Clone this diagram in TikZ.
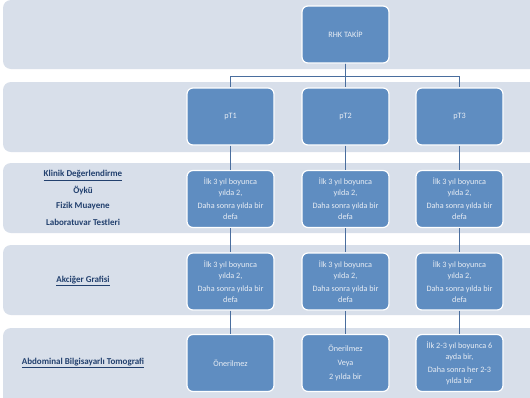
\documentclass[tikz,border=0pt]{standalone}
\usepackage{fontspec}
\setmainfont{Carlito}
\definecolor{bandc}{HTML}{D8DFEA}
\definecolor{boxc}{HTML}{5F8DC1}
\definecolor{boxtxt}{HTML}{E8EDF4}
\definecolor{connc}{HTML}{4A6E9E}
\definecolor{lblc}{HTML}{22406E}
\begin{document}
\begin{tikzpicture}[x=1pt,y=-1pt,
  band/.style={fill=bandc,draw=none,rounded corners=8pt},
  box/.style={fill=boxc,draw=white,line width=1.2pt,rounded corners=6pt,
    minimum width=87pt,minimum height=57pt,text=boxtxt,align=center,
    font=\fontsize{8.2}{11.2}\selectfont,inner sep=1pt},
  conn/.style={draw=connc,line width=1pt},
  lbl/.style={text=lblc,font=\fontsize{9}{10}\selectfont\bfseries,inner sep=0pt}]
\useasboundingbox (0,0) rectangle (530,397);
\clip (0,0) rectangle (530,397);
\fill[white] (0,0) rectangle (530,397);
% bands
\path[band] (3,0) rectangle (548,69);
\path[band] (3,82) rectangle (548,152);
\path[band] (3,163) rectangle (548,233);
\path[band] (3,245) rectangle (548,315);
\path[band] (3,328) rectangle (548,410);
% nodes
\node[box] (rhk) at (345.5,34.5) {RHK TAKİP};
\node[box] (pt1) at (230.5,116.5) {pT1};
\node[box] (pt2) at (345.5,116.5) {pT2};
\node[box] (pt3) at (459.5,116.5) {pT3};
\foreach \i/\x in {1/230.5,2/345.5,3/459.5}{
  \node[box] (a\i) at (\x,199) {İlk 3 yıl boyunca\\yılda 2,\\[1.5pt]Daha sonra yılda bir\\defa};
  \node[box] (b\i) at (\x,281.5) {İlk 3 yıl boyunca\\yılda 2,\\[1.5pt]Daha sonra yılda bir\\defa};
}
\node[box] (c1) at (230.5,363) {Önerilmez};
\node[box] (c2) at (345.5,363) {Önerilmez\\[2.5pt]Veya\\[2.5pt]2 yılda bir};
\node[box] (c3) at (459.5,363) {İlk 2-3 yıl boyunca 6\\ayda bir,\\[1.5pt]Daha sonra her 2-3\\yılda bir};
% connectors
\draw[conn] (rhk.south) -- (pt2.north);
\draw[conn] (rhk.south) -- ++(0,13) -| (pt1.north);
\draw[conn] (rhk.south) -- ++(0,13) -| (pt3.north);
\foreach \i in {1,2,3}{
  \draw[conn] (pt\i.south) -- (a\i.north);
  \draw[conn] (a\i.south) -- (b\i.north);
  \draw[conn] (b\i.south) -- (c\i.north);
}
% left labels
\node[lbl] (kd) at (83,175.5) {\underline{Klinik Değerlendirme}};
\node[lbl] (oy) at (83,191) {Öykü};
\node[lbl] (fm) at (83,206.5) {Fizik Muayene};
\node[lbl] (lt) at (83,222) {Laboratuvar Testleri};
\node[lbl] (ag) at (83,281) {\underline{Akciğer Grafisi}};
\node[lbl] (abt) at (83,363) {\underline{Abdominal Bilgisayarlı Tomografi}};
\end{tikzpicture}
\end{document}
